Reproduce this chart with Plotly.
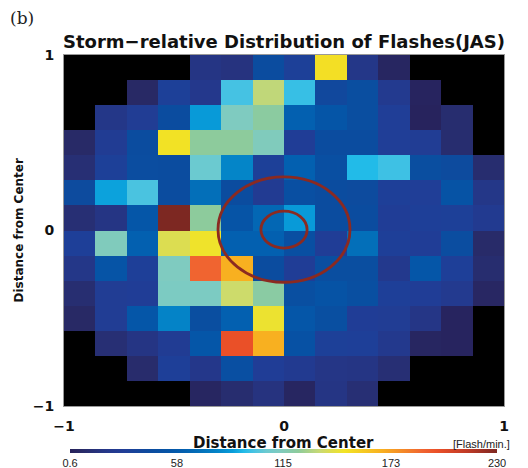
import plotly.graph_objects as go

# ---- data (14 x 14 grid, row 0 = top, None = no flashes / black) ----
n_cells = 14
row_00 = [None, None, None, None, 18, 16, 44, 32, 150, 20, 4, None, None, None]
row_01 = [None, None, 6, 32, 22, 99, 133, 97, 40, 46, 24, 3, None, None]
row_02 = [None, 20, 28, 44, 87, 113, 122, 62, 54, 46, 30, 2, 10, None]
row_03 = [7, 27, 44, 149, 123, 123, 114, 29, 44, 44, 30, 28, 10, None]
row_04 = [12, 32, 45, 44, 106, 80, 32, 62, 48, 94, 98, 46, 43, 10]
row_05 = [43, 89, 100, 44, 70, 44, 26, 48, 44, 43, 31, 30, 52, 20]
row_06 = [12, 18, 55, 230, 123, 53, 66, 87, 44, 44, 29, 31, 32, 25]
row_07 = [31, 114, 62, 140, 147, 62, 62, 48, 29, 70, 31, 29, 45, 8]
row_08 = [20, 53, 31, 113, 190, 168, 44, 29, 46, 46, 23, 55, 31, 10]
row_09 = [11, 28, 29, 112, 112, 136, 121, 47, 52, 47, 31, 29, 24, 5]
row_10 = [6, 28, 55, 79, 46, 62, 146, 55, 47, 29, 28, 19, 3, None]
row_11 = [None, 12, 18, 27, 55, 198, 168, 50, 32, 31, 23, 4, 3, None]
row_12 = [None, None, 9, 31, 21, 48, 29, 25, 19, 18, 12, None, None, None]
row_13 = [None, None, None, None, 4, 10, 16, 4, 18, 12, None, None, None, None]
rows_top_to_bottom = [row_00, row_01, row_02, row_03, row_04, row_05, row_06,
                      row_07, row_08, row_09, row_10, row_11, row_12, row_13]

z_min, z_max = 0.6, 230
cbar_tickvals = [0.6, 58, 115, 173, 230]
cbar_ticktext = ["0.6", "58", "115", "173", "230"]
axis_ticks = [-1, 0, 1]
ring_radii = [0.105, 0.3]

colorscale = [
    [0.0, "#27215a"], [0.03, "#282b68"], [0.05, "#272f74"], [0.076, "#253584"],
    [0.093, "#24388c"], [0.128, "#203e97"], [0.19, "#0b4c9f"], [0.233, "#0555a7"],
    [0.268, "#0360b0"], [0.30, "#036eb8"], [0.346, "#0485c8"], [0.381, "#089dda"],
    [0.407, "#22bbe8"], [0.429, "#45c2e3"], [0.46, "#6ccad0"], [0.49, "#7fcbc0"],
    [0.534, "#8dcb9c"], [0.586, "#cada72"], [0.608, "#dcdd50"], [0.643, "#f2e425"],
    [0.73, "#f8b020"], [0.826, "#f06430"], [0.86, "#ea5028"], [0.93, "#c03a26"],
    [1.0, "#7d2822"],
]

# bottom row first for the heatmap (y increases upward)
z = rows_top_to_bottom[::-1]
dcell = 2.0 / n_cells

fig = go.Figure()
fig.add_trace(go.Heatmap(
    z=z, x0=-1 + dcell / 2, dx=dcell, y0=-1 + dcell / 2, dy=dcell,
    zmin=z_min, zmax=z_max, colorscale=colorscale,
    colorbar=dict(
        orientation="h", x=0.499, xanchor="center", y=-43 / 351, yanchor="top",
        len=0.97, lenmode="fraction", thickness=4, outlinewidth=0,
        xpad=0, ypad=0,
        tickvals=cbar_tickvals, ticktext=cbar_ticktext, ticks="",
        tickfont=dict(family="Liberation Sans", size=11, color="#222"),
        ticklabelposition="outside bottom",
    ),
    hoverinfo="skip",
))

shapes = []
for r in ring_radii:
    shapes.append(dict(type="circle", xref="x", yref="y",
                       x0=-r, x1=r, y0=-r + 0.005, y1=r + 0.005,
                       line=dict(color="#8b2a21", width=2.8)))

# the page body adds an 8 px offset, so the figure is 8 px smaller each way
fig_w, fig_h = 520, 460
axis_font = dict(family="DejaVu Sans", size=14, color="#111", weight="bold")
fig.update_layout(
    width=fig_w, height=fig_h,
    margin=dict(l=56, r=24, t=47, b=62, autoexpand=False),
    paper_bgcolor="white", plot_bgcolor="black",
    shapes=shapes,
    title=dict(text="Storm\u2212relative Distribution of Flashes(JAS)",
               x=0.5, xref="paper", xanchor="center",
               y=1 - 34 / fig_h, yref="container", yanchor="middle",
               font=dict(family="DejaVu Sans", size=18, color="#111", weight="bold")),
    xaxis=dict(range=[-1, 1], tickvals=axis_ticks, ticks="", showgrid=False,
               zeroline=False, showline=True, linecolor="#999", linewidth=1, mirror=True,
               tickfont=axis_font, ticklabelstandoff=7, automargin=False),
    yaxis=dict(range=[-1, 1], tickvals=axis_ticks, ticks="", showgrid=False,
               zeroline=False, showline=True, linecolor="#999", linewidth=1, mirror=True,
               tickfont=axis_font, ticklabelstandoff=6, automargin=False),
    annotations=[
        dict(text="(b)", xref="paper", yref="paper", x=-56 / 440, y=1 + 37 / 351,
             xanchor="left", yanchor="middle", showarrow=False, xshift=0,
             font=dict(family="DejaVu Serif", size=17, color="#222")),
        dict(text="Distance from Center", xref="paper", yref="paper",
             x=0.498, y=-37 / 351, xanchor="center", yanchor="middle", showarrow=False,
             font=dict(family="DejaVu Sans", size=15, color="#111", weight="bold")),
        dict(text="Distance from Center", xref="paper", yref="paper",
             x=-46 / 440, y=0.5, xanchor="center", yanchor="middle", showarrow=False,
             textangle=-90,
             font=dict(family="DejaVu Sans", size=12, color="#111", weight="bold")),
        dict(text="[Flash/min.]", xref="paper", yref="paper",
             x=1.0, y=-38 / 351, xanchor="right", yanchor="middle", showarrow=False,
             xshift=8,
             font=dict(family="Liberation Sans", size=11, color="#222")),
    ],
)

fig.write_html("out.html")
